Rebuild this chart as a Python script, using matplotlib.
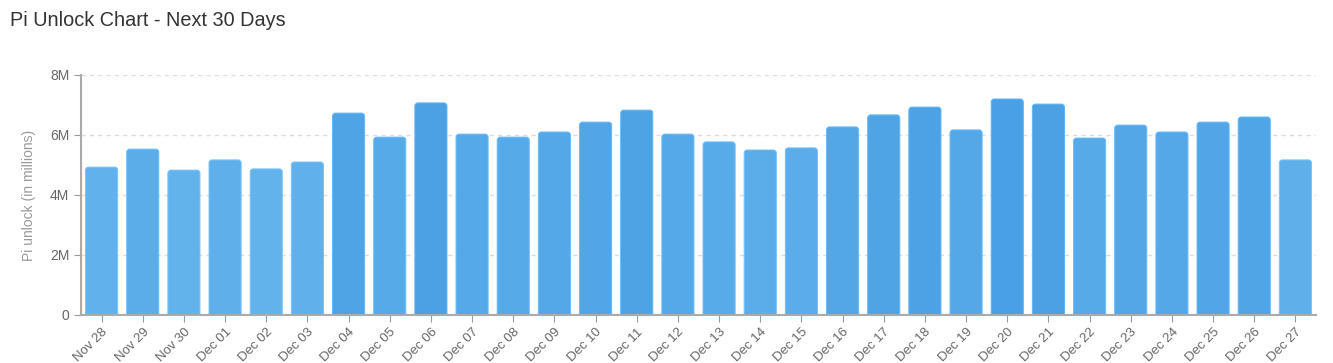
import matplotlib.pyplot as plt
import matplotlib.colors as mcolors
from matplotlib.patches import FancyBboxPatch
import numpy as np

plt.rcParams['font.family'] = ['Liberation Sans', 'DejaVu Sans']

# data (millions of Pi unlocked per day)
dates = ['Nov 28', 'Nov 29', 'Nov 30', 'Dec 01', 'Dec 02', 'Dec 03', 'Dec 04', 'Dec 05',
         'Dec 06', 'Dec 07', 'Dec 08', 'Dec 09', 'Dec 10', 'Dec 11', 'Dec 12', 'Dec 13',
         'Dec 14', 'Dec 15', 'Dec 16', 'Dec 17', 'Dec 18', 'Dec 19', 'Dec 20', 'Dec 21',
         'Dec 22', 'Dec 23', 'Dec 24', 'Dec 25', 'Dec 26', 'Dec 27']
unlock_m = [4.93, 5.53, 4.83, 5.17, 4.87, 5.10, 6.73, 5.93, 7.07, 6.03, 5.93, 6.10,
            6.43, 6.83, 6.03, 5.77, 5.50, 5.57, 6.27, 6.67, 6.93, 6.17, 7.20, 7.03,
            5.90, 6.33, 6.10, 6.43, 6.60, 5.17]
y_ticks = [0, 2, 4, 6, 8]
y_labels = ['0', '2M', '4M', '6M', '8M']

fig = plt.figure(figsize=(13.33, 3.63), dpi=100)
ax = fig.add_axes([81 / 1333, 1 - 315 / 363, (1316 - 81) / 1333, 240 / 363])

# colour goes slightly darker with higher values
light = np.array(mcolors.to_rgb('#62b2ec'))
dark = np.array(mcolors.to_rgb('#4aa0e4'))
vmin, vmax = min(unlock_m), max(unlock_m)

width = 0.78
px_x = (1316 - 81) / len(dates)
px_y = 30.0
r = 3.0 / px_x
aspect = (3.0 / px_y) / r
for i, v in enumerate(unlock_m):
    t = (v - vmin) / (vmax - vmin)
    c = light + (dark - light) * t
    p = FancyBboxPatch((i - width / 2, -0.3), width, v + 0.3,
                       boxstyle=f'round,pad=0,rounding_size={r}',
                       mutation_aspect=aspect, facecolor=c,
                       edgecolor=mcolors.to_hex(np.minimum(c + 0.08, 1)),
                       linewidth=0.7, zorder=3)
    ax.add_patch(p)

ax.set_xlim(-0.5, len(dates) - 0.5)
ax.set_ylim(0, 8)
ax.set_yticks(y_ticks)
ax.set_yticklabels(y_labels)
ax.set_xticks(range(len(dates)))
ax.set_xticklabels(dates, rotation=45, ha='right', rotation_mode='anchor')

for y in y_ticks[1:]:
    ax.axhline(y, color='#dddddd', linestyle=(0, (3, 3)), linewidth=1, zorder=1)

for s in ['top', 'right']:
    ax.spines[s].set_visible(False)
for s in ['left', 'bottom']:
    ax.spines[s].set_color('#aaaaaa')
    ax.spines[s].set_linewidth(1.5)
    ax.spines[s].set_zorder(4)
ax.tick_params(axis='both', colors='#999999', labelcolor='#666666', labelsize=10, length=5)
ax.tick_params(axis='x', labelsize=9.5, pad=3)
ax.set_ylabel('Pi unlock (in millions)', color='#999999', fontsize=10, labelpad=10)

fig.text(10 / 1333, 1 - 20 / 363, 'Pi Unlock Chart - Next 30 Days', fontsize=14.3,
         color='#333333', va='center', ha='left')

fig.savefig('out.png', dpi=100)
